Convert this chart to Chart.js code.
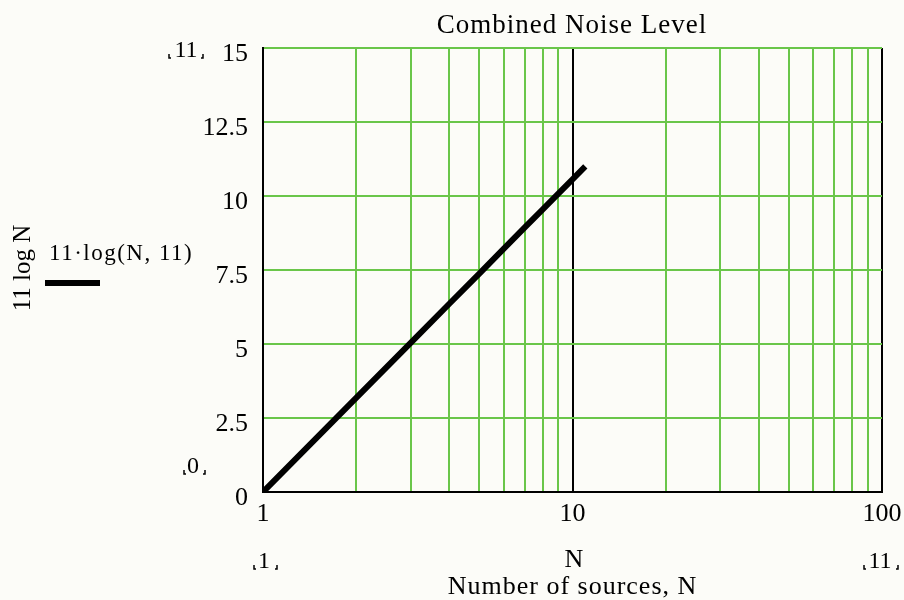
<!DOCTYPE html>
<html>
<head>
<meta charset="utf-8">
<script src="https://cdn.jsdelivr.net/npm/chart.js@4/dist/chart.umd.min.js"></script>
<style>
  html, body { margin: 0; padding: 0; background: #fcfcf8; }
  canvas { display: block; }
</style>
</head>
<body>
<canvas id="noiseChart" width="904" height="600"></canvas>
<script>
// number of sources and combined level 11*log(N,11)
const sources = [1, 2, 3, 4, 5, 6, 7, 8, 9, 10, 11];
const level = [0, 3.18, 5.04, 6.36, 7.38, 8.22, 8.93, 9.54, 10.08, 10.56, 11.0];

const xTicks = [1, 2, 3, 4, 5, 6, 7, 8, 9, 10, 20, 30, 40, 50, 60, 70, 80, 90, 100];
const xLabelled = [1, 10, 100];
const yMin = 0, yMax = 15, yStep = 2.5;

const GREEN = '#6ac64a';
const FONT = '"Liberation Serif", "Times New Roman", serif';

const ctx = document.getElementById('noiseChart');

// mathcad range placeholder: text with two tiny corner marks under it
function markedText(c, txt, cx, base, l, r) {
  c.font = '24px ' + FONT;
  c.textAlign = 'center';
  c.textBaseline = 'alphabetic';
  c.fillText(txt, cx, base);
  c.lineWidth = 1.5;
  c.beginPath();
  c.moveTo(l, base - 3); c.lineTo(l, base + 1); c.lineTo(l + 2, base + 1);
  c.moveTo(r, base - 3); c.lineTo(r, base + 1); c.lineTo(r - 2, base + 1);
  c.stroke();
}

const extras = {
  id: 'extras',
  beforeDraw(chart) {
    const c = chart.ctx;
    c.save();
    c.fillStyle = '#fcfcf8';
    c.fillRect(0, 0, chart.width, chart.height);
    c.restore();
  },
  afterDraw(chart) {
    const c = chart.ctx;
    const area = chart.chartArea;
    const xs = chart.scales.x;
    c.save();
    c.fillStyle = '#000';
    c.strokeStyle = '#000';
    c.textBaseline = 'alphabetic';
    c.textAlign = 'center';

    // title
    c.font = '27px ' + FONT;
    c.letterSpacing = '1px';
    c.fillText('Combined Noise Level', 572, 33);

    // axis titles
    const midX = xs.getPixelForValue(10);
    c.font = '26px ' + FONT;
    c.fillText('N', midX + 2, 567);
    c.fillText('Number of sources, N', midX, 594);

    c.save();
    c.translate(30, 268);
    c.rotate(-Math.PI / 2);
    c.font = '25px ' + FONT;
    c.letterSpacing = '0px';
    c.fillText('11 log N', 0, 0);
    c.restore();

    // legend
    c.textAlign = 'left';
    c.font = '23px ' + FONT;
    c.letterSpacing = '1.5px';
    c.fillText('11\u00b7log(N, 11)', 49, 260);
    c.fillRect(45, 280, 55, 6);

    // range placeholders
    c.letterSpacing = '0px';
    markedText(c, '11', 186, 57, 169, 203);
    markedText(c, '0', 193, 473, 184, 205);
    markedText(c, '1', 264, 568, 254, 277);
    markedText(c, '11', 880, 568, 864, 898);
    c.restore();
  }
};

new Chart(ctx, {
  type: 'line',
  data: {
    datasets: [{
      label: '11\u00b7log(N, 11)',
      data: sources.map((n, i) => ({ x: n, y: level[i] })),
      borderColor: '#000',
      borderWidth: 6,
      pointRadius: 0,
      tension: 0,
      fill: false
    }]
  },
  options: {
    responsive: false,
    animation: false,
    layout: { padding: { left: 0, top: 48, right: 22, bottom: 0 } },
    plugins: {
      legend: { display: false },
      tooltip: { enabled: false }
    },
    scales: {
      x: {
        type: 'logarithmic',
        min: 1,
        max: 100,
        afterBuildTicks: s => { s.ticks = xTicks.map(v => ({ value: v })); },
        afterFit: s => { s.height = 108; s.paddingRight = 0; s.paddingLeft = 0; },
        ticks: {
          autoSkip: false,
          maxRotation: 0,
          padding: 7,
          color: '#000',
          font: { family: FONT, size: 26 },
          callback: v => xLabelled.includes(v) ? String(v) : ''
        },
        grid: {
          drawTicks: false,
          lineWidth: 2,
          color: c => (c.tick && (c.tick.value === 10 || c.tick.value === 100)) ? '#000' : GREEN
        },
        border: { color: '#000', width: 2 }
      },
      y: {
        min: yMin,
        max: yMax,
        afterFit: s => { s.width = 263; s.paddingTop = 0; s.paddingBottom = 0; },
        ticks: {
          stepSize: yStep,
          padding: 15,
          labelOffset: 6,
          color: '#000',
          font: { family: FONT, size: 26 }
        },
        grid: {
          drawTicks: false,
          lineWidth: 2,
          color: GREEN
        },
        border: { color: '#000', width: 2 }
      }
    }
  },
  plugins: [extras]
});
</script>
</body>
</html>
